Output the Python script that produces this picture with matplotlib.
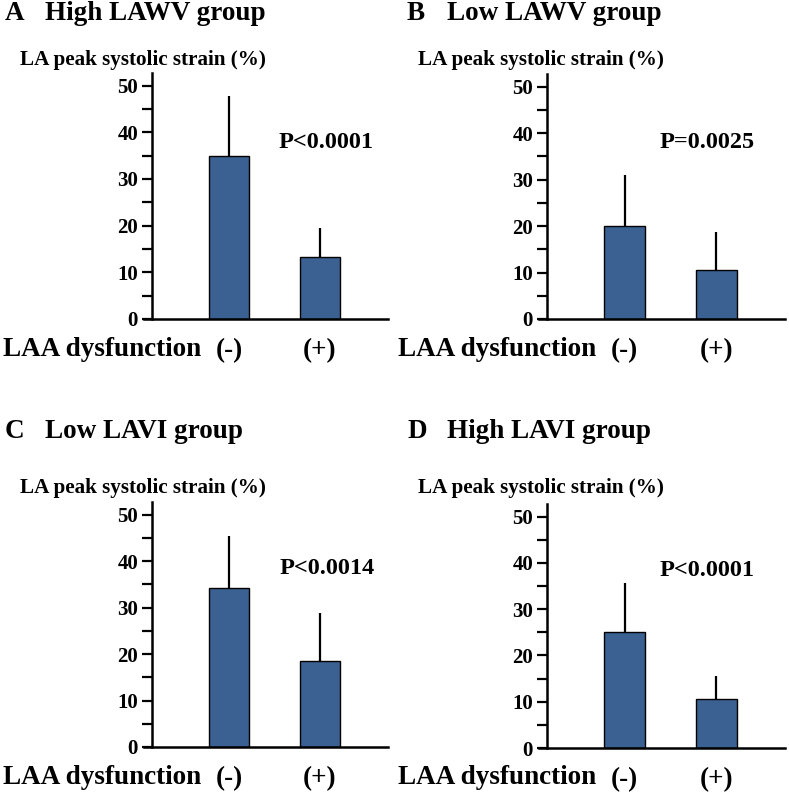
import matplotlib
matplotlib.use("Agg")
import matplotlib.pyplot as plt
from matplotlib.ticker import MultipleLocator

# ---- data ----
categories = ["(-)", "(+)"]
panel_letters = ["A", "B", "C", "D"]
panel_titles = ["High LAWV group", "Low LAWV group", "Low LAVI group", "High LAVI group"]
means = [[35.0, 13.3], [20.0, 10.5], [34.1, 18.5], [25.1, 10.5]]
sds = [[12.8, 6.2], [11.0, 8.3], [11.2, 10.3], [10.6, 5.1]]
pvalues = ["P<0.0001", "P=0.0025", "P<0.0014", "P<0.0001"]
ylabel = "LA peak systolic strain (%)"
xlabel = "LAA dysfunction"

W, H = 789, 794
fig = plt.figure(figsize=(W / 100, H / 100), dpi=100)
serif = ["Liberation Serif", "DejaVu Serif"]
bar_color = "#3A6191"

# axes pixel boxes: left, bottom(y px from top), width, height
boxes = [(152, 319, 236, 246), (547, 319, 238, 245),
         (152, 747, 236, 245), (547, 748, 238, 244)]
title_y = [14, 14, 431, 431]
letter_x = [5, 407]
ylabel_y = [60, 60, 488, 488]
ylabel_x = [20, 418]
p_y = [142, 142, 568, 570]
p_x = [326, 707, 327, 707]

def fx(px):
    return px / W

def fy(py):
    return 1 - py / H

for i in range(4):
    l, b, w, h = boxes[i]
    ax = fig.add_axes([fx(l), fy(b), w / W, h / H])
    x = [1, 2]
    ax.bar(x, means[i], width=0.44, color=bar_color, edgecolor="black", linewidth=1.0, zorder=2)
    for xi, m, s in zip(x, means[i], sds[i]):
        ax.plot([xi, xi], [m, m + s], color="black", lw=1.6, zorder=1, solid_capstyle="butt")
    ax.set_xlim(0.154, 2.747)
    ax.set_ylim(0, 52.7)
    for sp in ["top", "right", "bottom"]:
        ax.spines[sp].set_visible(False)
    ax.spines["left"].set_linewidth(1.8)
    ax.plot([-0.034, 1.0], [0, 0], transform=ax.get_yaxis_transform(), color="black",
            lw=1.8, clip_on=False, zorder=3)
    ax.yaxis.set_major_locator(MultipleLocator(10))
    ax.yaxis.set_minor_locator(MultipleLocator(5))
    ax.tick_params(axis="y", which="both", direction="out", length=7, width=1.6, pad=3)
    ax.set_yticks([0, 10, 20, 30, 40, 50])
    ax.set_yticklabels([str(v) for v in [0, 10, 20, 30, 40, 50]],
                       fontfamily=serif, fontweight="bold", fontsize=15)
    ax.set_xticks(x)
    ax.set_xticklabels(categories, fontfamily=serif, fontweight="bold", fontsize=19.5)
    ax.tick_params(axis="x", length=0, pad=14)
    ax.set_facecolor("none")

    col = i % 2
    # letter + title
    fig.text(fx(letter_x[col]), fy(title_y[i]), panel_letters[i], fontfamily=serif,
             fontweight="bold", fontsize=19.5, va="center", ha="left")
    fig.text(fx(letter_x[col] + 40), fy(title_y[i]), panel_titles[i], fontfamily=serif,
             fontweight="bold", fontsize=19.5, va="center", ha="left")
    fig.text(fx(ylabel_x[col]), fy(ylabel_y[i]), ylabel, fontfamily=serif,
             fontweight="bold", fontsize=15.2, va="center", ha="left")
    fig.text(fx(p_x[i]), fy(p_y[i]), pvalues[i], fontfamily=serif,
             fontweight="bold", fontsize=17.5, va="center", ha="center")
    fig.text(fx(l - 149), fy(b + 30), xlabel, fontfamily=serif,
             fontweight="bold", fontsize=19.5, va="center", ha="left")

fig.savefig("out.png", dpi=100)
